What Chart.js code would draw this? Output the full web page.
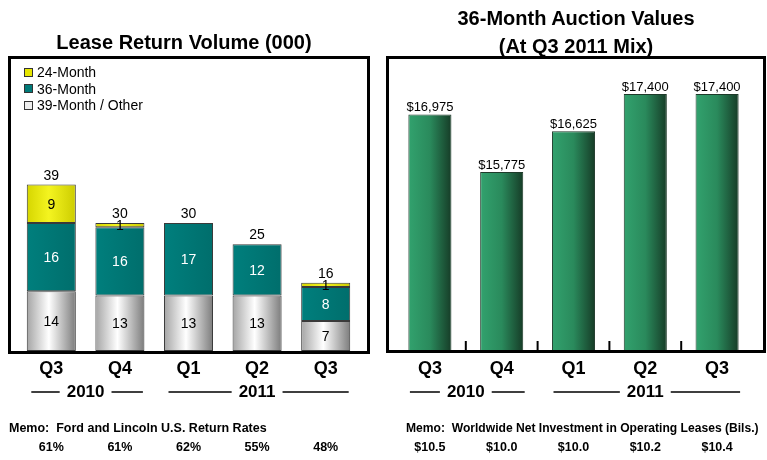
<!DOCTYPE html>
<html>
<head>
<meta charset="utf-8">
<title>Lease Return Volume / Auction Values</title>
<script src="https://cdn.jsdelivr.net/npm/chart.js@4.4.1/dist/chart.umd.min.js"></script>
<style>
  body { margin: 0; width: 767px; height: 460px; background: #fff; position: relative; overflow: hidden;
         font-family: 'Liberation Sans', Arial, sans-serif; color: #000; }
  canvas { position: absolute; top: 0; }
  #leftChart { left: 0; }
  #rightChart { left: 380px; }
  .box { position: absolute; border: 3px solid #000; box-sizing: border-box; pointer-events: none; }
  .title { position: absolute; font-weight: bold; font-size: 20px; text-align: center; white-space: nowrap; }
  .memo { position: absolute; font-weight: bold; font-size: 12.5px; line-height: 14px; white-space: nowrap; }
  #legend { position: absolute; left: 24px; top: 64px; font-size: 14px; }
  #legend div { height: 16.5px; display: flex; align-items: center; }
  #legend .sw { width: 7px; height: 7px; border: 1px solid #333; margin-right: 4px; }
</style>
</head>
<body>
<canvas id="leftChart" width="380" height="460"></canvas>
<canvas id="rightChart" width="387" height="460"></canvas>

<div class="box" style="left:8px; top:56px; width:362px; height:298px;"></div>
<div class="box" style="left:386px; top:56px; width:380px; height:297px;"></div>

<div class="title" style="left:0; top:30px; width:368px; line-height:25px;">Lease Return Volume (000)</div>
<div class="title" style="left:386px; top:4px; width:380px; line-height:28px;">36-Month Auction Values<br>(At Q3 2011 Mix)</div>

<div id="legend"></div>

<div class="memo" style="left:9px; top:421px;">Memo:&nbsp; Ford and Lincoln U.S. Return Rates</div>
<div class="memo" style="left:406px; top:421px; font-size:12.1px;">Memo:&nbsp; Worldwide Net Investment in Operating Leases (Bils.)</div>

<script>
const quarters = ['Q3', 'Q4', 'Q1', 'Q2', 'Q3'];
const years = ['2010', '2011'];
const yearFirst = [0, 2];
const yearLast = [1, 4];

const month24 = [9, 1, 0, 0, 1];
const month36 = [16, 16, 17, 12, 8];
const month39 = [14, 13, 13, 13, 7];
const returnRates = ['61%', '61%', '62%', '55%', '48%'];

const auctionValues = [16975, 15775, 16625, 17400, 17400];
const netInvestment = ['$10.5', '$10.0', '$10.0', '$10.2', '$10.4'];

const FONT = "'Liberation Sans', Arial, sans-serif";

// horizontal shading across each bar, taken from the x scale
function barGradient(stops, barPct) {
  return (c) => {
    const chart = c.chart;
    const x = chart.scales && chart.scales.x;
    if (c.type !== 'data' || !x) return stops[0][1];
    const cx = x.getPixelForValue(c.dataIndex);
    const w = (x.width / chart.data.labels.length) * barPct;
    if (!isFinite(cx) || !isFinite(w) || w <= 0) return stops[0][1];
    const g = chart.ctx.createLinearGradient(cx - w / 2, 0, cx + w / 2, 0);
    stops.forEach(s => g.addColorStop(s[0], s[1]));
    return g;
  };
}

// quarter names, year brackets and memo row under the box
const bottomText = {
  id: 'bottomText',
  afterDraw(chart, args, opts) {
    const ctx = chart.ctx;
    const x = chart.scales.x;
    ctx.save();
    ctx.fillStyle = '#000';
    ctx.strokeStyle = '#000';
    ctx.textAlign = 'center';
    ctx.textBaseline = 'middle';

    ctx.font = 'bold 18px ' + FONT;
    quarters.forEach((q, i) => ctx.fillText(q, x.getPixelForValue(i), 369));

    ctx.font = 'bold 17px ' + FONT;
    ctx.lineWidth = 1.5;
    years.forEach((yr, k) => {
      const a = x.getPixelForValue(yearFirst[k]);
      const b = x.getPixelForValue(yearLast[k]);
      const mid = (a + b) / 2;
      const w = ctx.measureText(yr).width;
      ctx.fillText(yr, mid, 392);
      ctx.beginPath();
      ctx.moveTo(a - 20, 392); ctx.lineTo(mid - w / 2 - 7, 392);
      ctx.moveTo(mid + w / 2 + 7, 392); ctx.lineTo(b + 23, 392);
      ctx.stroke();
    });

    ctx.font = 'bold 12.5px ' + FONT;
    opts.memo.forEach((m, i) => ctx.fillText(m, x.getPixelForValue(i), 448));
    ctx.restore();
  }
};

const stackLabels = {
  id: 'stackLabels',
  afterDatasetsDraw(chart) {
    const ctx = chart.ctx;
    ctx.save();
    ctx.font = '14px ' + FONT;
    ctx.textAlign = 'center';
    ctx.textBaseline = 'middle';
    chart.data.datasets.forEach((ds, di) => {
      chart.getDatasetMeta(di).data.forEach((bar, i) => {
        const v = ds.data[i];
        if (!v) return;
        ctx.fillStyle = ds.labelColor;
        ctx.fillText(v, bar.x, (bar.y + bar.base) / 2 + 1);
      });
    });
    ctx.fillStyle = '#000';
    ctx.textBaseline = 'alphabetic';
    const y = chart.scales.y;
    const meta = chart.getDatasetMeta(0);
    quarters.forEach((q, i) => {
      const total = month24[i] + month36[i] + month39[i];
      ctx.fillText(total, meta.data[i].x, y.getPixelForValue(total) - 5);
    });
    ctx.restore();
  }
};

const valueLabels = {
  id: 'valueLabels',
  afterDatasetsDraw(chart) {
    const ctx = chart.ctx;
    const area = chart.chartArea;
    const x = chart.scales.x;
    ctx.save();
    ctx.font = '13px ' + FONT;
    ctx.fillStyle = '#000';
    ctx.textAlign = 'center';
    ctx.textBaseline = 'alphabetic';
    chart.getDatasetMeta(0).data.forEach((bar, i) => {
      ctx.fillText('$' + auctionValues[i].toLocaleString('en-US'), bar.x, bar.y - 3);
    });
    // small ticks between categories on the base line
    ctx.strokeStyle = '#000';
    ctx.lineWidth = 2;
    for (let i = 0; i < quarters.length - 1; i++) {
      const px = (x.getPixelForValue(i) + x.getPixelForValue(i + 1)) / 2;
      ctx.beginPath();
      ctx.moveTo(px, area.bottom);
      ctx.lineTo(px, area.bottom - 10);
      ctx.stroke();
    }
    ctx.restore();
  }
};

const LEFT_BAR = 0.715;
const RIGHT_BAR = 0.6;

const series = [
  { label: '39-Month / Other', data: month39, swatch: '#eeeeee', labelColor: '#000',
    stops: [[0, '#a4a4a4'], [0.45, '#ffffff'], [1, '#7c7c7c']] },
  { label: '36-Month', data: month36, swatch: '#007a78', labelColor: '#fff',
    stops: [[0, '#007f7d'], [1, '#006e6c']] },
  { label: '24-Month', data: month24, swatch: '#e6e600', labelColor: '#000',
    stops: [[0, '#d6d600'], [0.45, '#f4f420'], [1, '#cccc00']] }
];

const legend = document.getElementById('legend');
series.slice().reverse().forEach(s => {
  const row = document.createElement('div');
  row.innerHTML = `<span class="sw" style="background:${s.swatch}"></span>${s.label}`;
  legend.appendChild(row);
});

const common = {
  responsive: false,
  animation: false,
  events: [],
  plugins: { legend: { display: false }, tooltip: { enabled: false } }
};

const leftChart = new Chart(document.getElementById('leftChart'), {
  type: 'bar',
  data: {
    labels: quarters,
    datasets: series.map(s => ({
      label: s.label,
      data: s.data,
      labelColor: s.labelColor,
      backgroundColor: barGradient(s.stops, LEFT_BAR),
      borderColor: '#3a3a3a',
      borderWidth: 1,
      borderSkipped: false,
      categoryPercentage: 1,
      barPercentage: LEFT_BAR
    }))
  },
  options: {
    ...common,
    layout: { padding: { left: 17, right: 20, top: 59, bottom: 109 } },
    scales: {
      x: { display: false, stacked: true },
      y: { display: false, stacked: true, min: 0, max: 68.4 }
    },
    plugins: { ...common.plugins, bottomText: { memo: returnRates } }
  },
  plugins: [stackLabels, bottomText]
});

const rightChart = new Chart(document.getElementById('rightChart'), {
  type: 'bar',
  data: {
    labels: quarters,
    datasets: [{
      label: '36-Month Auction Value',
      data: auctionValues,
      backgroundColor: barGradient([[0, '#32a26e'], [0.5, '#2a8a5c'], [1, '#163c27']], RIGHT_BAR),
      borderColor: '#1e3a2a',
      borderWidth: 1,
      borderSkipped: 'start',
      categoryPercentage: 1,
      barPercentage: RIGHT_BAR
    }]
  },
  options: {
    ...common,
    layout: { padding: { left: 14, right: 14, top: 59, bottom: 109 } },
    scales: {
      x: { display: false },
      y: { display: false, min: 12046, max: 18129 }
    },
    plugins: { ...common.plugins, bottomText: { memo: netInvestment } }
  },
  plugins: [valueLabels, bottomText]
});

// second pass so the gradients see the finished scales
leftChart.update();
rightChart.update();
</script>
</body>
</html>
